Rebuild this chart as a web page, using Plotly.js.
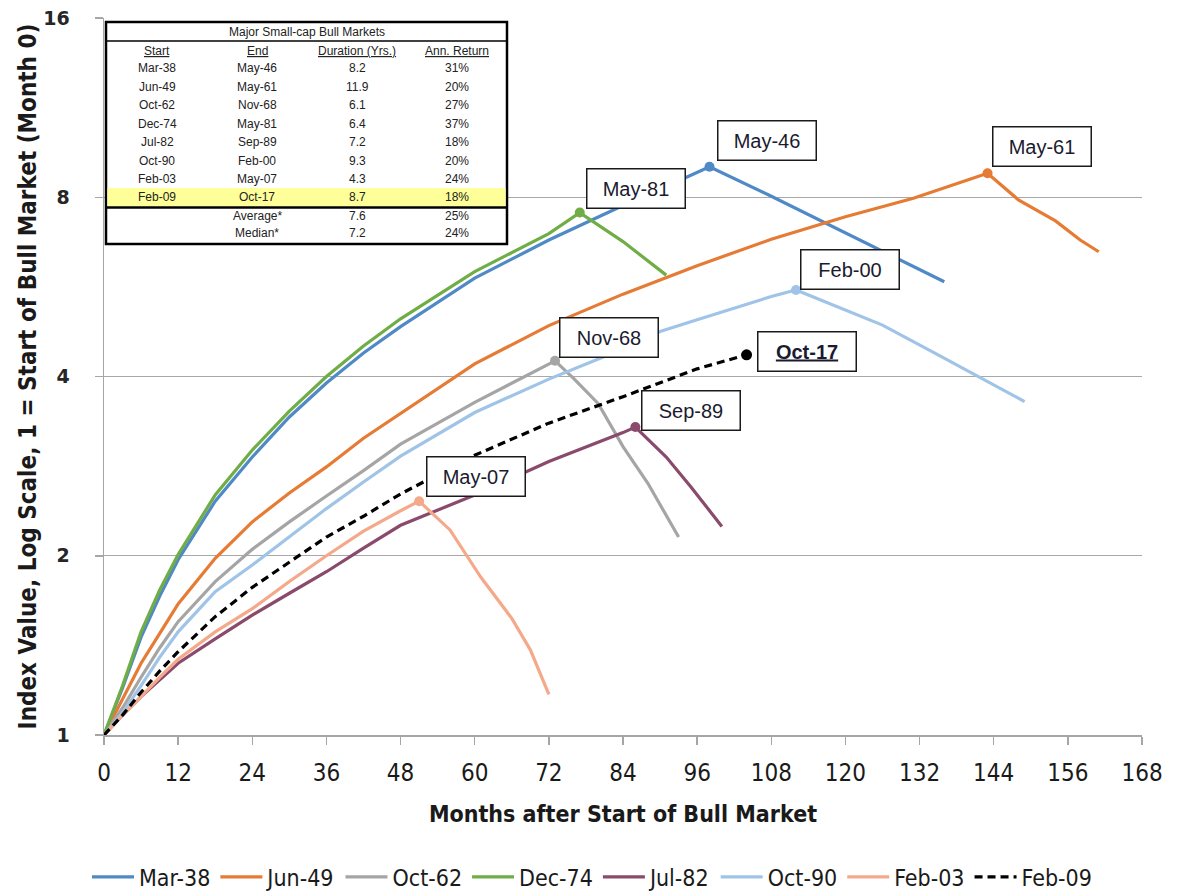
<!DOCTYPE html>
<html><head><meta charset="utf-8">
<script src="https://cdn.plot.ly/plotly-3.0.1.min.js"></script>
<style>html,body{margin:0;padding:0;background:#fff}#chart{width:1186px;height:892px}</style>
</head><body><div id="chart"></div>
<script>
// ---------------- DATA ----------------
const seriesNames = ['Mar-38','Jun-49','Oct-62','Dec-74','Jul-82','Oct-90','Feb-03','Feb-09'];
const peakLabels  = ['May-46','May-61','Nov-68','May-81','Sep-89','Feb-00','May-07','Oct-17'];

const m_Mar38 = [0,3,6,9,12,18,24,30,36,42,48,60,72,84,90,95,98,108,120,132,136];
const v_Mar38 = [1,1.20,1.46,1.71,1.97,2.47,2.93,3.42,3.90,4.38,4.85,5.85,6.78,7.75,8.25,8.72,9.0,8.03,6.97,6.03,5.77];

const m_Jun49 = [0,3,6,9,12,18,24,30,36,42,48,60,72,84,96,108,120,131,143,148,154,158,161];
const v_Jun49 = [1,1.15,1.32,1.48,1.66,1.98,2.28,2.55,2.82,3.15,3.47,4.20,4.87,5.50,6.14,6.80,7.42,7.97,8.78,7.92,7.30,6.78,6.48];

const m_Oct62 = [0,3,6,9,12,18,24,30,36,42,48,60,73,76,80,84,88,93];
const v_Oct62 = [1,1.11,1.25,1.40,1.55,1.81,2.05,2.28,2.52,2.78,3.08,3.62,4.25,3.97,3.60,3.05,2.65,2.15];

const m_Dec74 = [0,3,6,9,12,18,24,30,36,42,48,60,72,77,84,91];
const v_Dec74 = [1,1.21,1.49,1.75,2.01,2.53,3.01,3.50,4.00,4.50,5.00,6.00,6.95,7.54,6.74,5.92];

const m_Jul82 = [0,3,6,9,12,18,24,30,36,42,48,60,72,84,86,91,95,100];
const v_Jul82 = [1,1.08,1.16,1.24,1.32,1.45,1.59,1.73,1.88,2.06,2.25,2.53,2.88,3.22,3.29,2.93,2.61,2.24];

const m_Oct90 = [0,3,6,9,12,18,24,30,36,42,48,60,72,84,90,96,108,112,120,126,135,149];
const v_Oct90 = [1,1.09,1.21,1.35,1.49,1.74,1.93,2.15,2.40,2.66,2.94,3.48,3.96,4.45,4.76,4.98,5.45,5.59,5.17,4.88,4.35,3.63];

const m_Feb03 = [0,3,6,9,12,18,24,30,36,42,48,51,56,61,66,69,72];
const v_Feb03 = [1,1.08,1.16,1.25,1.34,1.49,1.63,1.81,2.00,2.20,2.38,2.47,2.21,1.84,1.57,1.39,1.17];

const m_Feb09 = [0,3,6,9,12,18,24,30,36,42,48,60,72,84,96,104];
const v_Feb09 = [1,1.08,1.18,1.28,1.38,1.58,1.77,1.95,2.15,2.33,2.54,2.95,3.34,3.70,4.12,4.35];

// table
const tableTitle = 'Major Small-cap Bull Markets';
const tableHeaders = ['Start','End','Duration (Yrs.)','Ann. Return'];
const tableStart = ['Mar-38','Jun-49','Oct-62','Dec-74','Jul-82','Oct-90','Feb-03','Feb-09'];
const tableEnd = ['May-46','May-61','Nov-68','May-81','Sep-89','Feb-00','May-07','Oct-17'];
const tableDuration = ['8.2','11.9','6.1','6.4','7.2','9.3','4.3','8.7'];
const tableReturn = ['31%','20%','27%','37%','18%','20%','24%','18%'];
const summaryLabels = ['Average*','Median*'];
const summaryDuration = ['7.6','7.2'];
const summaryReturn = ['25%','24%'];

const xTicks = [0,12,24,36,48,60,72,84,96,108,120,132,144,156,168];
const yTicks = [1,2,4,8,16];

// ---------------- STYLE ----------------
const monthsAll = [m_Mar38,m_Jun49,m_Oct62,m_Dec74,m_Jul82,m_Oct90,m_Feb03,m_Feb09];
const valsAll   = [v_Mar38,v_Jun49,v_Oct62,v_Dec74,v_Jul82,v_Oct90,v_Feb03,v_Feb09];
const colors = ['#4f89c6','#e57b34','#a5a5a5','#70ad47','#8a4a6c','#9fc4e7','#f4aa8a','#000000'];
const labelShift = [[57,26],[54,27],[54,23],[56,24],[56,17],[54,20],[57,25],[60,3]];

const NARROW = '"DejaVu Sans Condensed","Liberation Sans Narrow",sans-serif';
const W=1186, H=892;
const L=104, R=1142, T=18, B=735;
const px = x => (x-L)/(R-L);
const py = y => (B-y)/(B-T);

const traces = [];
seriesNames.forEach((name,i)=>{
  traces.push({
    type:'scatter', mode:'lines', name:name,
    x: monthsAll[i], y: valsAll[i],
    line:{color:colors[i], width:3.2, dash: i===7 ? '8px,5px' : 'solid'},
    hoverinfo:'x+y+name'
  });
});
const annotations = [];
seriesNames.forEach((name,i)=>{
  const vals = valsAll[i];
  let k = 0; vals.forEach((v,j)=>{ if(v>vals[k]) k=j; });
  traces.push({
    type:'scatter', mode:'markers', showlegend:false, hoverinfo:'skip',
    x:[monthsAll[i][k]], y:[vals[k]],
    marker:{color:colors[i], size: i===7 ? 11 : 10}
  });
  annotations.push({
    xref:'x', yref:'y', x: monthsAll[i][k], y: Math.log10(vals[k]),
    xshift: labelShift[i][0], yshift: labelShift[i][1],
    xanchor:'center', yanchor:'middle', showarrow:false,
    text: i===7 ? '<b><u>'+peakLabels[i]+'</u></b>' : peakLabels[i],
    font:{family:'"Liberation Sans",Arial,sans-serif', size:20, color:'#1b1b2f'},
    bgcolor:'#ffffff', bordercolor:'#1a1a1a', borderwidth:1.5, borderpad:0,
    width:97, height:38
  });
});

// table
const shapes = [];
shapes.push({type:'rect', xref:'paper', yref:'paper', layer:'above',
  x0:px(106), x1:px(507), y0:py(244), y1:py(22), fillcolor:'#ffffff', line:{color:'#000', width:2.5}});
shapes.push({type:'rect', xref:'paper', yref:'paper', layer:'above',
  x0:px(107.5), x1:px(505.5), y0:py(206.5), y1:py(188), fillcolor:'#ffff99', line:{width:0}});
shapes.push({type:'line', xref:'paper', yref:'paper', layer:'above',
  x0:px(106), x1:px(507), y0:py(41), y1:py(41), line:{color:'#000', width:1.5}});
shapes.push({type:'line', xref:'paper', yref:'paper', layer:'above',
  x0:px(106), x1:px(507), y0:py(207.5), y1:py(207.5), line:{color:'#000', width:2.5}});

const colX = [157,257,357,457];
const tFont = {family:'"Liberation Sans",Arial,sans-serif', size:12, color:'#222'};
function tAnn(x,y,text){
  annotations.push({xref:'paper', yref:'paper', x:px(x), y:py(y), xanchor:'center', yanchor:'middle',
    showarrow:false, text:text, font:tFont});
}
tAnn(306.5, 31.5, tableTitle);
tableHeaders.forEach((h,j)=> tAnn(colX[j], 51, '<u>'+h+'</u>'));
tableStart.forEach((s,r)=>{
  const y = 68 + r*18.5;
  tAnn(colX[0], y, s); tAnn(colX[1], y, tableEnd[r]);
  tAnn(colX[2], y, tableDuration[r]); tAnn(colX[3], y, tableReturn[r]);
});
summaryLabels.forEach((s,r)=>{
  const y = 216 + r*17.5;
  tAnn(colX[1], y, s); tAnn(colX[2], y, summaryDuration[r]); tAnn(colX[3], y, summaryReturn[r]);
});

const layout = {
  width:W, height:H,
  margin:{l:L, r:W-R, t:T, b:H-B},
  paper_bgcolor:'#fff', plot_bgcolor:'#fff',
  showlegend:true,
  xaxis:{
    range:[0,168], tickvals:xTicks, ticktext:xTicks.map(String),
    showgrid:false, zeroline:false, showline:true, linecolor:'#a6a6a6', linewidth:1.5,
    ticks:'outside', ticklen:8, tickcolor:'#a6a6a6', tickwidth:1.5,
    tickfont:{family:NARROW, size:24, color:'#1a1a1a'}, ticklabelstandoff:8,
    title:{text:'<b>Months after Start of Bull Market</b>', font:{family:NARROW, size:23, color:'#1a1a1a'}, standoff:19}
  },
  yaxis:{
    type:'log', range:[0, Math.log10(16)], tickvals:yTicks, ticktext:yTicks.map(String),
    showgrid:true, gridcolor:'#a8a8a8', gridwidth:1.3, zeroline:false,
    showline:true, linecolor:'#a6a6a6', linewidth:1.5,
    ticks:'outside', ticklen:8, tickcolor:'#a6a6a6', tickwidth:1.5,
    tickfont:{family:'"DejaVu Sans",Verdana,sans-serif', size:19, color:'#262626', weight:'bold'},
    ticklabelstandoff:21,
    title:{text:'<b>Index Value, Log Scale, 1 = Start of Bull Market (Month 0)</b>', font:{family:NARROW, size:24, color:'#1a1a1a'}, standoff:0}
  },
  legend:{orientation:'h', xref:'container', x:592/W, xanchor:'center',
    yref:'container', y:(H-877)/H, yanchor:'middle',
    font:{family:NARROW, size:23, color:'#1a1a1a'}, itemwidth:42, bgcolor:'rgba(0,0,0,0)'},
  shapes:shapes,
  annotations:annotations
};

Plotly.newPlot('chart', traces, layout, {displayModeBar:false, staticPlot:true});
</script>
</body></html>
